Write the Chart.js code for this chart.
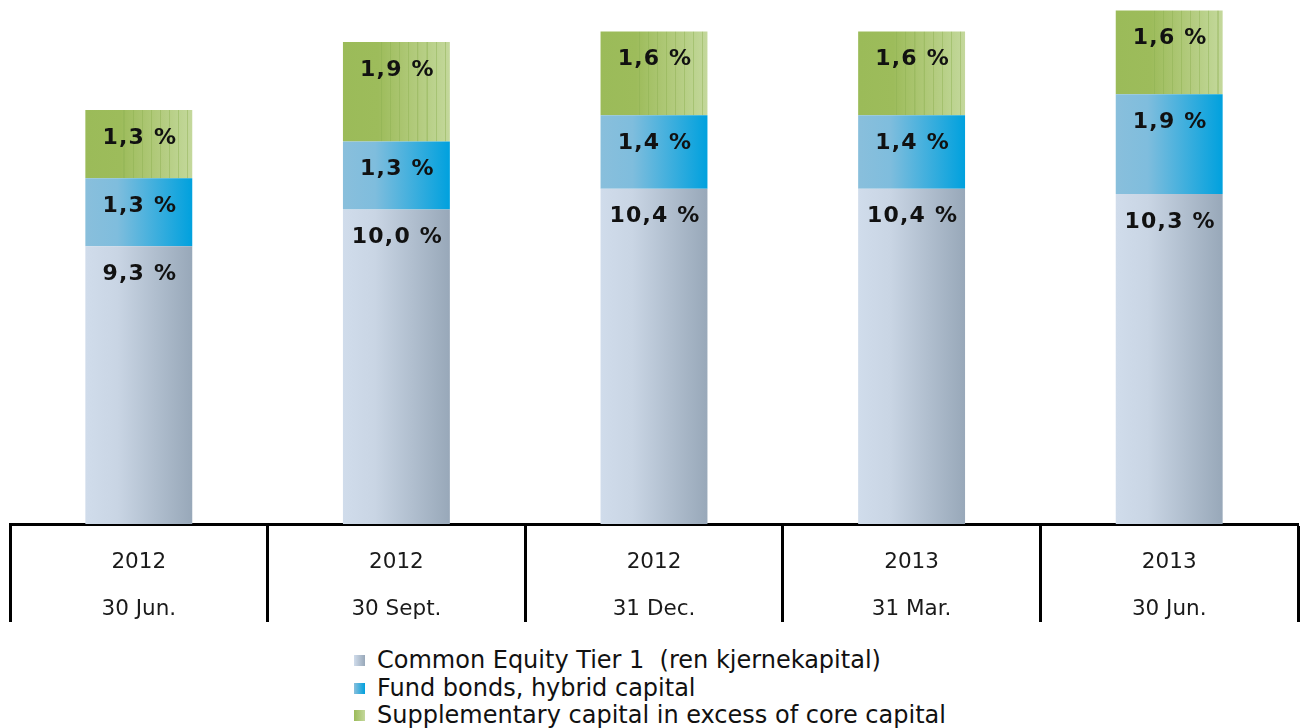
<!DOCTYPE html>
<html>
<head>
<meta charset="utf-8">
<script src="https://cdn.jsdelivr.net/npm/chart.js@4"></script>
<style>
  html, body { margin: 0; padding: 0; background: #fff; }
  #wrap { position: relative; width: 1300px; height: 640px; }
  #legend { margin: 7px 0 0 354px; font-family: "DejaVu Sans", Verdana, sans-serif; font-size: 24px; color: #111; }
  #legend div { height: 27.5px; line-height: 27.5px; white-space: pre; }
  #legend span.box { display: inline-block; width: 11px; height: 11px; margin-right: 12px; vertical-align: 2px; }
</style>
</head>
<body>
<div id="wrap"><canvas id="capitalChart"></canvas></div>
<div id="legend"></div>
<script>
// Data
const years = ["2012", "2012", "2012", "2013", "2013"];
const dates = ["30 Jun.", "30 Sept.", "31 Dec.", "31 Mar.", "30 Jun."];
const cet1 = [9.3, 10.0, 10.4, 10.4, 10.3];
const hybrid = [1.3, 1.3, 1.4, 1.4, 1.9];
const supplementary = [1.3, 1.9, 1.6, 1.6, 1.6];
const seriesNames = [
  "Common Equity Tier 1  (ren kjernekapital)",
  "Fund bonds, hybrid capital",
  "Supplementary capital in excess of core capital",
];

const BAR_PCT = 0.415;

// horizontal gradient across a single bar
function barGradient(ctx, kind) {
  const chart = ctx.chart;
  if (!chart.chartArea) return "#ccc";
  const xs = chart.scales.x;
  const center = xs.getPixelForValue(ctx.dataIndex);
  const half = (xs.width / years.length) * BAR_PCT / 2;
  const g = chart.ctx.createLinearGradient(center - half, 0, center + half, 0);
  if (kind === 0) {
    g.addColorStop(0, "#d0dceb");
    g.addColorStop(0.3, "#c9d5e4");
    g.addColorStop(1, "#98a8b9");
  } else if (kind === 1) {
    g.addColorStop(0, "#89bfdc");
    g.addColorStop(0.3, "#7fbddd");
    g.addColorStop(1, "#00a1de");
  } else {
    g.addColorStop(0, "#9bbb59");
    g.addColorStop(0.33, "#9dbc5b");
    // thin vertical stripes on the lighter part
    for (let p = 0.36; p < 0.99; p += 0.085) {
      const t = (p - 0.33) / 0.67;
      const base = mix([157, 188, 91], [196, 216, 155], t);
      const dark = mix(base, [140, 175, 80], 0.45);
      g.addColorStop(p - 0.004, rgb(base));
      g.addColorStop(p - 0.003, rgb(dark));
      g.addColorStop(p + 0.006, rgb(dark));
      g.addColorStop(p + 0.007, rgb(base));
    }
    g.addColorStop(1, "#c4d89c");
  }
  return g;
}

function mix(a, b, t) {
  return [0, 1, 2].map((i) => Math.round(a[i] + (b[i] - a[i]) * t));
}
function rgb(c) {
  return `rgb(${c[0]},${c[1]},${c[2]})`;
}

// value labels, placed a fixed distance under the segment top
const valueLabels = {
  id: "valueLabels",
  afterDatasetsDraw(chart) {
    const c = chart.ctx;
    c.save();
    c.font = "bold 22px 'DejaVu Sans', Verdana, sans-serif";
    c.letterSpacing = "1.2px";
    c.fillStyle = "#111";
    c.textAlign = "center";
    c.textBaseline = "middle";
    chart.data.datasets.forEach((ds, i) => {
      chart.getDatasetMeta(i).data.forEach((bar, j) => {
        const txt = ds.data[j].toFixed(1).replace(".", ",") + " %";
        c.fillText(txt, bar.x + 1, bar.y + 28);
      });
    });
    c.restore();
  },
};

const ctx = document.getElementById("capitalChart").getContext("2d");

const chart = new Chart(ctx, {
  type: "bar",
  data: {
    labels: years.map((y, i) => [y, dates[i]]),
    datasets: [
      { label: seriesNames[0], data: cet1, backgroundColor: (c) => barGradient(c, 0) },
      { label: seriesNames[1], data: hybrid, backgroundColor: (c) => barGradient(c, 1) },
      { label: seriesNames[2], data: supplementary, backgroundColor: (c) => barGradient(c, 2) },
    ],
  },
  options: {
    responsive: true,
    maintainAspectRatio: false,
    animation: false,
    layout: { padding: { left: 10, right: 2, top: 0, bottom: 16 } },
    datasets: {
      bar: { categoryPercentage: 1, barPercentage: BAR_PCT, borderWidth: 0 },
    },
    plugins: {
      legend: { display: false },
      tooltip: { enabled: false },
    },
    scales: {
      x: {
        stacked: true,
        // axis box as tall as the tick marks so the labels sit between them
        afterFit: (scale) => {
          scale.height = 100;
        },
        grid: {
          offset: true,
          drawOnChartArea: false,
          drawTicks: true,
          tickLength: 98,
          tickWidth: 3,
          tickColor: "#000",
        },
        border: { display: true, color: "#000", width: 3 },
        ticks: {
          padding: -82.5,
          color: "#1a1a1a",
          font: { family: "'DejaVu Sans', Verdana, sans-serif", size: 21.5, lineHeight: 2.17 },
          maxRotation: 0,
          autoSkip: false,
        },
      },
      y: {
        stacked: true,
        display: false,
        min: 4,
        max: 14,
      },
    },
  },
  plugins: [valueLabels],
});

// legend as html, built from the datasets
const legendEl = document.getElementById("legend");
const swatches = [
  "linear-gradient(to right, #d0dceb, #98a8b9)",
  "linear-gradient(to right, #89bfdc, #00a1de)",
  "linear-gradient(to right, #9bbb59, #c4d89c)",
];
chart.data.datasets.forEach((ds, i) => {
  const row = document.createElement("div");
  const box = document.createElement("span");
  box.className = "box";
  box.style.background = swatches[i];
  row.appendChild(box);
  row.appendChild(document.createTextNode(ds.label));
  legendEl.appendChild(row);
});
</script>
</body>
</html>
